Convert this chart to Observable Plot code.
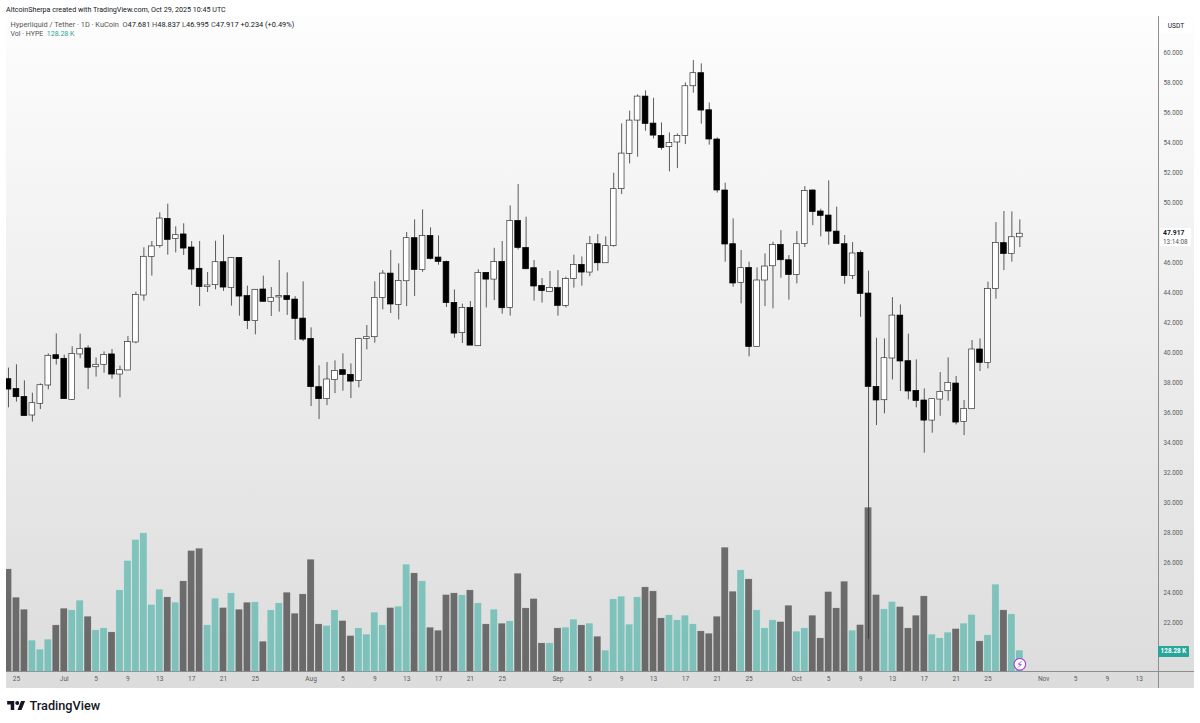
<!DOCTYPE html>
<html><head><meta charset="utf-8">
<script src="https://cdn.jsdelivr.net/npm/d3@7"></script>
<script src="https://cdn.jsdelivr.net/npm/@observablehq/plot@0.6"></script>
<style>
html,body{margin:0;padding:0;background:#fff;width:1200px;height:723px;overflow:hidden;font-family:Roboto,"Liberation Sans",sans-serif}
#stage{position:absolute;left:0;top:0;width:1200px;height:723px}
#pane{position:absolute;left:6px;top:16px;width:1188px;height:672px;background:linear-gradient(180deg,#fdfdfd 0%,#dcdcdc 100%)}
.ln{position:absolute;background:#8e8e8e}
.plot{position:absolute;left:0;top:0}
.t{position:absolute;white-space:nowrap}
.g{color:#555}.b{color:#131722}
#leg1 span.p{position:absolute;top:0}
</style></head><body>
<div id="stage">
<div id="pane"></div>
<div class="ln" style="left:1157.6px;top:16px;width:0.8px;height:672px"></div>
<div class="ln" style="left:6px;top:671.2px;width:1188px;height:0.8px"></div>
<div id="vol" class="plot"></div>
<div id="px" class="plot"></div>
<div class="t b" style="left:6px;top:4.5px;font-size:7.15px">AltcoinSherpa created with TradingView.com, Oct 29, 2025 10:45 UTC</div>
<div class="t" id="leg1" style="left:10.5px;top:20px;font-size:7.4px"></div>
<div class="t" id="leg2" style="left:10.5px;top:30px;font-size:7px"></div>
<div class="t b" style="left:1160px;top:19px;width:32px;height:14px;background:#fff;border-radius:2px;font-size:6.6px;line-height:14px;text-align:center" >USDT</div>
<div style="position:absolute;left:1160px;top:228px;width:31px;height:18px;background:#fff"></div>
<div class="t b" id="lastPx" style="left:1163px;top:229px;font-size:6.8px;font-weight:700"></div>
<div class="t g" style="left:1163px;top:237.5px;font-size:6.4px">13:14:08</div>
<div class="t" id="lastVol" style="left:1158px;top:646px;width:31px;height:11px;background:#26a69a;color:#fff;border-radius:1px;font-size:6.4px;font-weight:700;line-height:11px;text-align:center"></div>
<svg style="position:absolute;left:7px;top:700.7px" width="18.5" height="9.6" viewBox="0 4 36 19"><path fill="#131722" d="M14 23H7V11H0V4h14v19zM28 23h-8l7.5-19h8L28 23z"/><circle cx="20" cy="8" r="4" fill="#131722"/></svg>
<div class="t b" style="left:29.5px;top:698px;font-size:12.7px;font-weight:500;font-family:Roboto,sans-serif">TradingView</div>
</div>
<script>
const firstDay = new Date(Date.UTC(2025, 5, 24));
const opens = [38.22,37.56,37.04,35.80,36.58,37.80,39.82,39.58,36.84,39.87,40.27,39.02,39.18,39.87,38.53,38.80,40.67,43.80,46.36,47.09,48.91,47.56,47.87,47.00,45.58,44.36,44.49,46.02,44.29,46.31,43.76,42.09,44.20,43.38,43.67,43.76,43.53,42.26,40.91,37.69,36.89,38.17,38.82,38.51,38.09,40.91,41.02,43.64,45.26,43.17,44.75,47.62,45.49,47.77,46.33,46.04,43.31,41.29,42.97,40.42,45.31,44.86,46.04,42.97,48.77,46.97,45.62,44.44,44.04,44.29,43.11,44.89,45.84,45.33,47.22,45.95,47.09,50.89,53.24,55.46,57.06,55.26,54.44,53.69,54.00,54.44,57.75,58.62,56.15,54.20,50.80,47.22,44.64,45.64,40.37,44.80,45.75,47.17,46.15,45.17,47.24,50.80,49.40,49.13,48.06,47.22,45.09,46.64,43.93,37.71,36.82,39.60,42.46,39.42,37.44,36.80,35.46,36.86,37.42,37.93,35.37,36.22,40.20,39.31,44.24,47.29,46.57,47.681];
const closes = [37.53,37.02,35.76,36.62,37.82,39.78,39.56,36.89,39.89,40.24,38.98,39.18,39.84,38.53,38.82,40.69,43.84,46.38,47.07,48.93,47.51,47.82,46.93,45.53,44.36,44.47,46.02,44.33,46.29,43.73,42.09,44.18,43.38,43.64,43.76,43.49,42.24,40.86,37.69,36.89,38.20,38.77,38.51,38.06,40.91,41.02,43.64,45.26,43.20,44.77,47.62,45.51,47.77,46.24,46.04,43.29,41.26,42.97,40.46,45.31,44.86,46.04,42.95,48.77,46.97,45.55,44.40,44.09,44.29,43.11,44.89,45.84,45.33,47.22,45.95,47.09,50.89,53.26,55.46,57.06,55.24,54.46,53.64,53.97,54.44,57.75,58.62,56.13,54.20,50.80,47.20,44.60,45.62,40.37,44.80,45.73,47.17,46.15,45.17,47.22,50.77,49.37,49.11,48.06,47.24,45.09,46.60,43.91,37.71,36.80,39.62,42.46,39.40,37.40,36.77,35.46,36.89,37.37,37.97,35.33,36.24,40.20,39.31,44.24,47.31,46.57,47.683,47.917];
const highs = [38.96,39.18,38.11,37.29,37.91,39.91,41.24,39.82,40.38,41.22,40.44,39.64,40.04,40.20,39.09,41.07,44.02,46.98,47.40,49.31,49.89,48.38,48.58,47.40,47.40,45.33,47.42,47.82,46.33,46.31,44.42,44.20,45.09,44.33,46.13,45.31,43.73,44.71,41.64,39.11,39.33,39.44,39.91,39.24,40.95,41.80,44.71,45.46,46.80,45.91,48.00,48.84,49.51,48.31,47.77,46.09,44.17,43.22,43.40,45.51,45.31,46.95,47.40,49.77,51.20,49.02,46.13,44.93,45.40,45.46,45.02,46.49,46.37,47.73,47.86,47.71,51.95,55.24,56.09,57.17,57.44,56.95,55.31,54.64,54.57,57.97,59.46,59.24,56.64,54.31,51.29,48.91,46.80,46.02,45.64,46.57,47.35,48.13,46.46,48.06,51.06,50.84,49.55,51.44,49.69,47.80,47.33,46.77,45.42,40.95,40.91,43.66,43.17,41.22,39.51,37.57,36.89,38.66,39.64,38.40,36.80,40.80,40.91,44.69,48.66,49.40,49.37,48.837];
const lows = [36.31,36.69,35.76,35.36,36.20,37.51,39.16,36.89,36.84,39.58,37.53,38.36,38.62,38.22,36.98,38.80,40.58,43.42,45.09,46.96,46.49,46.64,46.47,44.47,43.07,44.00,44.18,44.07,43.09,42.42,41.53,41.18,43.36,42.40,42.69,42.47,40.80,40.73,36.40,35.53,36.46,37.26,37.42,36.93,37.64,40.17,40.62,42.84,42.60,42.17,43.06,43.73,45.35,46.17,45.82,43.00,40.95,40.60,40.46,40.42,42.97,43.46,42.55,42.42,46.84,45.53,43.42,43.29,44.04,42.42,42.97,44.29,44.42,45.06,45.42,45.95,47.02,50.53,52.57,53.02,54.75,54.24,53.49,52.04,52.26,53.86,57.29,55.22,53.82,50.62,46.02,44.35,43.24,39.71,40.37,43.06,42.91,44.95,43.49,44.57,47.00,48.46,47.71,47.15,47.22,44.55,44.86,42.35,20.87,35.13,35.91,38.17,37.40,36.84,36.31,33.29,34.62,35.75,36.75,35.17,34.46,36.20,38.73,38.91,43.55,45.46,46.02,46.995];
const volumesK = [616,446,374,188,134,194,280,380,370,428,332,250,262,238,490,666,792,832,402,494,448,416,544,726,740,280,440,384,472,374,416,418,182,370,412,476,350,466,674,286,276,370,306,216,262,224,356,280,384,392,644,592,544,266,248,462,472,460,490,412,286,374,290,304,590,382,438,172,172,262,266,314,280,290,212,128,436,452,284,448,508,484,322,340,310,338,286,244,230,332,746,482,610,556,370,262,310,300,398,242,262,338,202,480,382,542,248,282,986,462,376,420,390,262,338,454,224,202,236,258,290,342,184,220,524,370,346,128.28];
const priceTicks = [60,58,56,54,52,50,46,44,42,40,38,36,34,32,30,28,26,24,22];
const timeTicks = [["2025-06-25","25"],["2025-07-01","Jul"],["2025-07-05","5"],["2025-07-09","9"],["2025-07-13","13"],["2025-07-17","17"],["2025-07-21","21"],["2025-07-25","25"],["2025-08-01","Aug"],["2025-08-05","5"],["2025-08-09","9"],["2025-08-13","13"],["2025-08-17","17"],["2025-08-21","21"],["2025-08-25","25"],["2025-09-01","Sep"],["2025-09-05","5"],["2025-09-09","9"],["2025-09-13","13"],["2025-09-17","17"],["2025-09-21","21"],["2025-09-25","25"],["2025-10-01","Oct"],["2025-10-05","5"],["2025-10-09","9"],["2025-10-13","13"],["2025-10-17","17"],["2025-10-21","21"],["2025-10-25","25"],["2025-11-01","Nov"],["2025-11-05","5"],["2025-11-09","9"],["2025-11-13","13"]];

const DAY = 864e5;
const candles = opens.map((open, i) => ({
  date: new Date(+firstDay + i * DAY), open, close: closes[i], high: highs[i], low: lows[i], vol: volumesK[i]
}));
const up = candles.filter(d => d.close >= d.open);
const down = candles.filter(d => d.close < d.open);
const last = candles[candles.length - 1];
const prev = candles[candles.length - 2];

const tickDates = timeTicks.map(([d]) => new Date(d + "T00:00:00Z"));
const tickLabel = new Map(timeTicks.map(([d, l]) => [+new Date(d + "T00:00:00Z"), l]));

const frame = {width: 1200, height: 723, marginLeft: 6, marginRight: 42.5, marginTop: 16, marginBottom: 51.5, style: {background: "transparent", overflow: "visible"}};
const xScale = {type: "utc", domain: [new Date(+firstDay - 0.25 * DAY), new Date(+firstDay + 144.35 * DAY)]};
const half = w => [d => new Date(+d.date - w * DAY), d => new Date(+d.date + w * DAY)];

const [vx1, vx2] = half(0.45);
const flashY = 46;
const volPlot = Plot.plot({
  ...frame,
  x: {...xScale, axis: null},
  y: {domain: [0, 3933], axis: null},
  marks: [
    Plot.rect(up, {x1: vx1, x2: vx2, y1: 0, y2: "vol", fill: "#26a69a", fillOpacity: 0.52, stroke: "#fff", strokeOpacity: 0.35, strokeWidth: 0.5, clip: true}),
    Plot.rect(down, {x1: vx1, x2: vx2, y1: 0, y2: "vol", fill: "#000", fillOpacity: 0.52, stroke: "#fff", strokeOpacity: 0.5, strokeWidth: 0.5, clip: true}),
    Plot.dot([last], {x: "date", y: () => flashY, r: 5.8, fill: "#fff", stroke: "#a83fd0", strokeWidth: 1.1}),
    Plot.text([last], {x: "date", y: () => flashY, text: () => "\u26A1\uFE0E", fill: "#a83fd0", fontSize: 10, fontWeight: 700, fontFamily: "DejaVu Sans"})
  ]
});
document.getElementById("vol").append(volPlot);

const [bx1, bx2] = half(0.36);
const pxPlot = Plot.plot({
  ...frame,
  x: {...xScale},
  y: {domain: [18.7, 62.4]},
  marks: [
    Plot.ruleX(candles, {x: "date", y1: "low", y2: "high", stroke: "#333", strokeWidth: 0.8, clip: true}),
    Plot.rect(up, {x1: bx1, x2: bx2, y1: "open", y2: "close", fill: "#fff", stroke: "#333", strokeWidth: 0.7, clip: true}),
    Plot.rect(down, {x1: bx1, x2: bx2, y1: "open", y2: "close", fill: "#000", stroke: "#000", strokeWidth: 0.7, clip: true}),
    Plot.axisY({anchor: "right", ticks: priceTicks, tickSize: 0, tickPadding: 5.5, label: null, tickFormat: d => d.toFixed(3), fontSize: 6.3, fontFamily: "Roboto", fill: "#5c5c5c"}),
    Plot.axisX({anchor: "bottom", ticks: tickDates, tickSize: 0, tickPadding: 4.3, label: null, tickFormat: d => tickLabel.get(+d), fontSize: 6.6, fontFamily: "Roboto", fill: "#5c5c5c"})
  ]
});
document.getElementById("px").append(pxPlot);

const fmt = v => v.toFixed(3);
const chg = last.close - prev.close;
const pct = chg / prev.close * 100;
const leg = (x, html) => `<span class="p" style="left:${x}px">${html}</span>`;
document.getElementById("leg1").innerHTML =
  `<span class="g">Hyperliquid / Tether · 1D · KuCoin</span>` +
  leg(112, `<span class="g">O</span><span class="b">${fmt(last.open)}</span>`) +
  leg(141.5, `<span class="g">H</span><span class="b">${fmt(last.high)}</span>`) +
  leg(171.5, `<span class="g">L</span><span class="b">${fmt(last.low)}</span>`) +
  leg(200.5, `<span class="g">C</span><span class="b">${fmt(last.close)}</span>`) +
  leg(230, `<span class="b">+${fmt(chg)} (+${pct.toFixed(2)}%)</span>`);
document.getElementById("leg2").innerHTML =
  `<span class="g">Vol · HYPE</span>&nbsp; <span style="color:#26a69a">${last.vol.toFixed(2)} K</span>`;
document.getElementById("lastPx").textContent = fmt(last.close);
document.getElementById("lastVol").textContent = last.vol.toFixed(2) + " K";
</script>
</body></html>
